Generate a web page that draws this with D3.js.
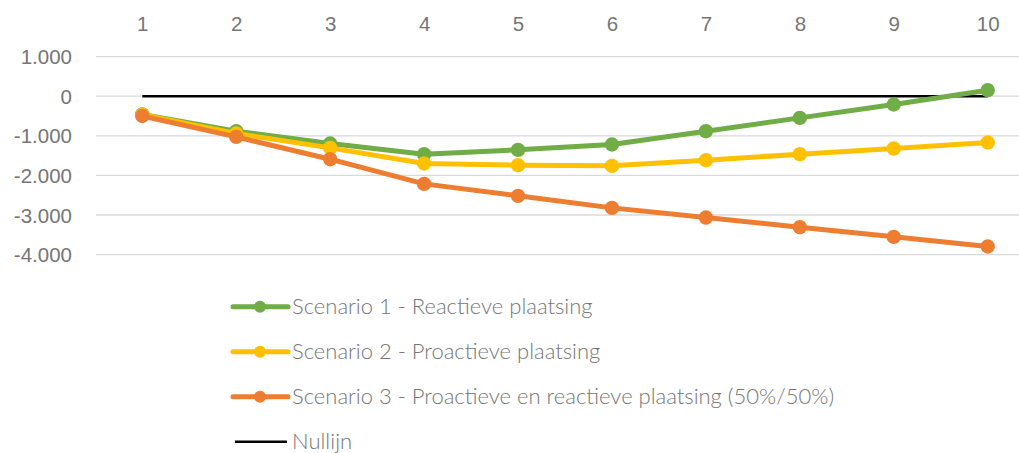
<!DOCTYPE html>
<html><head><meta charset="utf-8">
<script src="https://cdn.jsdelivr.net/npm/d3@7"></script>
<style>
html,body{margin:0;padding:0;background:#fff;}
svg{display:block;font-family:"Source Sans Pro","Lato","Open Sans",sans-serif;font-weight:300;}
</style></head>
<body>
<svg id="chart" width="1019" height="453"></svg>
<script>
const categories = ["1","2","3","4","5","6","7","8","9","10"];
const yTicks = [1000, 0, -1000, -2000, -3000, -4000];
const yTickLabels = ["1.000", "0", "-1.000", "-2.000", "-3.000", "-4.000"];
const scenario1 = [-460, -884, -1195, -1465, -1355, -1220, -884, -547, -210, 152];
const scenario2 = [-470, -942, -1305, -1700, -1742, -1759, -1616, -1465, -1322, -1170];
const scenario3 = [-500, -1027, -1591, -2214, -2516, -2820, -3064, -3308, -3552, -3796];
const nullijn = [0, 0, 0, 0, 0, 0, 0, 0, 0, 0];
const seriesNames = ["Scenario 1 - Reactieve plaatsing", "Scenario 2 - Proactieve plaatsing", "Scenario 3 - Proactieve en reactieve plaatsing (50%/50%)", "Nullijn"];
const seriesColors = ["#70ad47", "#ffc000", "#ed7d31", "#000000"];

const svg = d3.select("#chart");
const x = d3.scalePoint().domain(categories).range([142.3, 987.7]);
const y = d3.scaleLinear().domain([-4000, 1000]).range([254.6, 56.6]);
const gridX0 = 96, gridX1 = 1019;

// gridlines
svg.append("g").selectAll("line").data(yTicks).join("line")
  .attr("x1", gridX0).attr("x2", gridX1)
  .attr("y1", d => y(d)).attr("y2", d => y(d))
  .attr("stroke", "#d9d9d9").attr("stroke-width", 1.3);

// y axis labels
const yAxis = d3.axisLeft(y).tickValues(yTicks).tickSize(0).tickPadding(0)
  .tickFormat((d, i) => yTickLabels[i]);
const ya = svg.append("g").attr("transform", "translate(72,0)").call(yAxis);
ya.select(".domain").remove();
ya.selectAll("text").attr("font-size", 20.5).attr("fill", "#767676")
  .attr("font-family", null).attr("dy", "0.35em");

// x axis labels (top)
const xAxis = d3.axisTop(x).tickSize(0).tickPadding(0);
const xa = svg.append("g").attr("transform", "translate(0,31)").call(xAxis);
xa.select(".domain").remove();
xa.selectAll("text").attr("font-size", 20.5).attr("fill", "#767676").attr("font-family", null);

const line = d3.line().x((d, i) => x(categories[i])).y(d => y(d));

// Nullijn
svg.append("path").datum(nullijn).attr("d", line)
  .attr("fill", "none").attr("stroke", seriesColors[3]).attr("stroke-width", 2.5);

const series = [scenario1, scenario2, scenario3];
series.forEach((s, k) => {
  const g = svg.append("g");
  g.append("path").datum(s).attr("d", line)
    .attr("fill", "none").attr("stroke", seriesColors[k]).attr("stroke-width", 5)
    .attr("stroke-linejoin", "round");
  g.selectAll("circle").data(s).join("circle")
    .attr("cx", (d, i) => x(categories[i])).attr("cy", d => y(d))
    .attr("r", 7.2).attr("fill", seriesColors[k]);
});

// legend
const legendY = [306.7, 351.7, 396.7, 441.7];
const lg = svg.append("g");
seriesNames.forEach((name, k) => {
  const row = lg.append("g").attr("transform", `translate(0,${legendY[k]})`);
  row.append("line").attr("x1", k === 3 ? 235 : 233).attr("x2", k === 3 ? 287 : 288).attr("y1", 0).attr("y2", 0)
    .attr("stroke", seriesColors[k]).attr("stroke-width", k === 3 ? 2.5 : 5)
    .attr("stroke-linecap", k === 3 ? "butt" : "round");
  if (k < 3) row.append("circle").attr("cx", 260).attr("cy", 0).attr("r", 6).attr("fill", seriesColors[k]);
  row.append("text").attr("x", 292).attr("y", 0).attr("dy", "0.35em")
    .attr("font-size", 22).attr("fill", "#767676").text(name);
});
</script>
</body></html>
